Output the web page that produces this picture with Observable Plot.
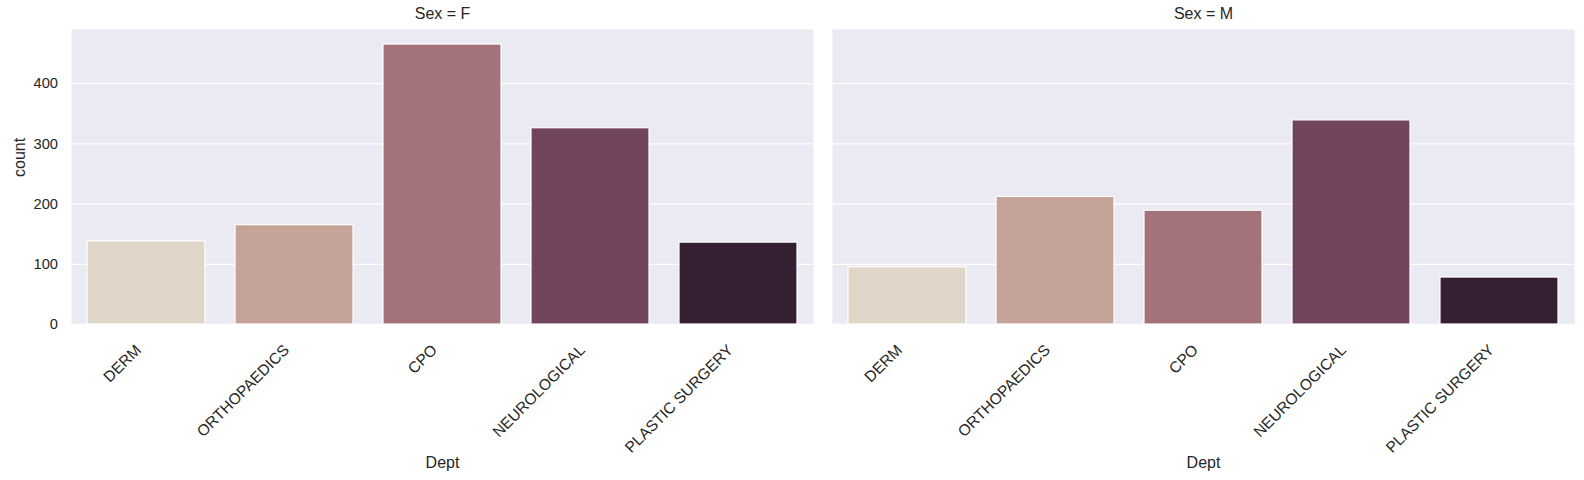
<!DOCTYPE html>
<html>
<head>
<meta charset="utf-8">
<script src="https://cdn.jsdelivr.net/npm/d3@7"></script>
<script src="https://cdn.jsdelivr.net/npm/@observablehq/plot@0.6"></script>
<style>
  html, body { margin: 0; padding: 0; background: white; }
  #chart { width: 1584px; height: 480px; }
</style>
</head>
<body>
<div id="chart"></div>
<script>
const depts = ["DERM", "ORTHOPAEDICS", "CPO", "NEUROLOGICAL", "PLASTIC SURGERY"];
const sexes = ["F", "M"];
const femaleCounts = [138, 165, 465, 326, 136];
const maleCounts = [95, 212, 189, 339, 78];
const deptColors = ["#e0d6c8", "#c5a399", "#a4727a", "#72435c", "#351f32"];
const yTicks = [0, 100, 200, 300, 400];

const rows = [];
depts.forEach((d, i) => rows.push({sex: "F", dept: d, count: femaleCounts[i]}));
depts.forEach((d, i) => rows.push({sex: "M", dept: d, count: maleCounts[i]}));

const textColor = "#262626";

const chart = Plot.plot({
  width: 1584,
  height: 480,
  marginLeft: 70,
  marginRight: 10,
  marginTop: 29,
  marginBottom: 156,
  style: {fontFamily: "'Liberation Sans', Arial, sans-serif", fontSize: "14.67px", color: textColor, background: "white"},
  fx: {domain: sexes, paddingInner: 0.025, paddingOuter: 0},
  x: {domain: depts, paddingInner: 0.2, paddingOuter: 0.1},
  y: {domain: [0, 490]},
  color: {domain: depts, range: deptColors},
  marks: [
    Plot.frame({fill: "#eaeaf2", stroke: null}),
    Plot.gridY(yTicks, {stroke: "white", strokeOpacity: 1, strokeWidth: 1.3}),
    Plot.barY(rows, {fx: "sex", x: "dept", y: "count", fill: "dept", stroke: "white", strokeWidth: 1.2}),
    Plot.axisY(yTicks, {tickSize: 0, tickPadding: 13.5, label: null, fontSize: 14.67}),
    Plot.axisX({tickSize: 0, tickPadding: 23, tickRotate: -45, label: null, fontSize: 15.5, dx: -8}),
    Plot.axisFx({anchor: "top", tickSize: 0, tickPadding: 11, label: null, fontSize: 16, tickFormat: d => `Sex = ${d}`}),
    Plot.text(["Dept"], {text: d => d, frameAnchor: "bottom", dy: 143, fontSize: 16}),
    Plot.text([{sex: "F", t: "count"}], {fx: "sex", text: "t", frameAnchor: "left", rotate: -90, dx: -52, fontSize: 16})
  ]
});
document.getElementById("chart").appendChild(chart);
</script>
</body>
</html>
